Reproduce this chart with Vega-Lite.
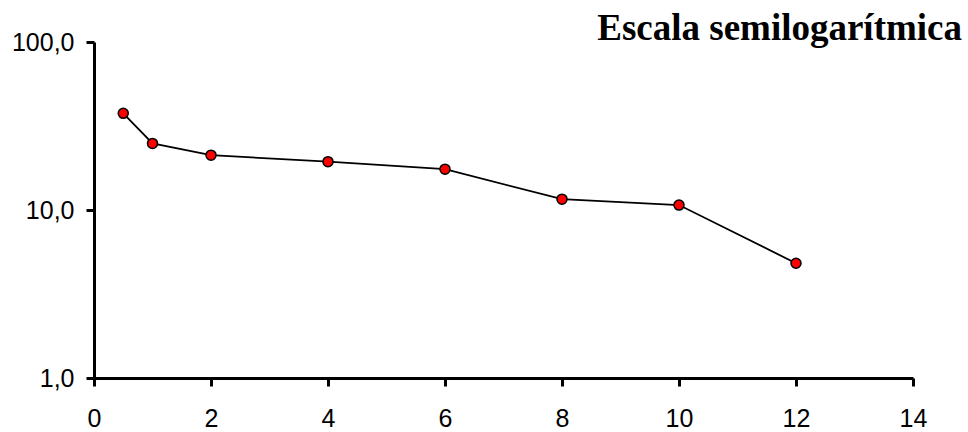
{
  "$schema": "https://vega.github.io/schema/vega-lite/v6.json",
  "autosize": "none",
  "width": 819,
  "height": 336,
  "padding": {"left": 94, "top": 42, "right": 55, "bottom": 54},
  "background": "white",
  "title": {
    "text": "Escala semilogarítmica",
    "anchor": "end",
    "frame": "group",
    "font": "Liberation Serif",
    "fontSize": 37,
    "fontWeight": "bold",
    "color": "black",
    "baseline": "alphabetic",
    "offset": -47,
    "dx": 49
  },
  "config": {
    "view": {"stroke": null},
    "axis": {
      "grid": false,
      "domainColor": "black",
      "domainWidth": 3,
      "tickColor": "black",
      "tickWidth": 3,
      "tickSize": 8,
      "labelFont": "Liberation Sans",
      "labelFontSize": 25,
      "labelColor": "black",
      "title": null
    }
  },
  "data": {
    "values": [
      {"t": 0.5, "v": 37.6},
      {"t": 1, "v": 24.9},
      {"t": 2, "v": 21.2},
      {"t": 4, "v": 19.4},
      {"t": 6, "v": 17.5},
      {"t": 8, "v": 11.6},
      {"t": 10, "v": 10.7},
      {"t": 12, "v": 4.82}
    ]
  },
  "encoding": {
    "x": {
      "field": "t",
      "type": "quantitative",
      "scale": {"domain": [0, 14], "nice": false},
      "axis": {"values": [0, 2, 4, 6, 8, 10, 12, 14], "labelPadding": 20, "labelFlush": false}
    },
    "y": {
      "field": "v",
      "type": "quantitative",
      "scale": {"type": "log", "domain": [1, 100], "nice": false},
      "axis": {
        "values": [1, 10, 100],
        "labelExpr": "replace(format(datum.value, '.1f'), '.', ',')",
        "labelPadding": 12,
        "labelFlush": false
      }
    }
  },
  "layer": [
    {"mark": {"type": "line", "color": "black", "strokeWidth": 1.8}},
    {"mark": {"type": "point", "filled": true, "fill": "red", "stroke": "black", "strokeWidth": 1.5, "size": 100, "opacity": 1}}
  ]
}
